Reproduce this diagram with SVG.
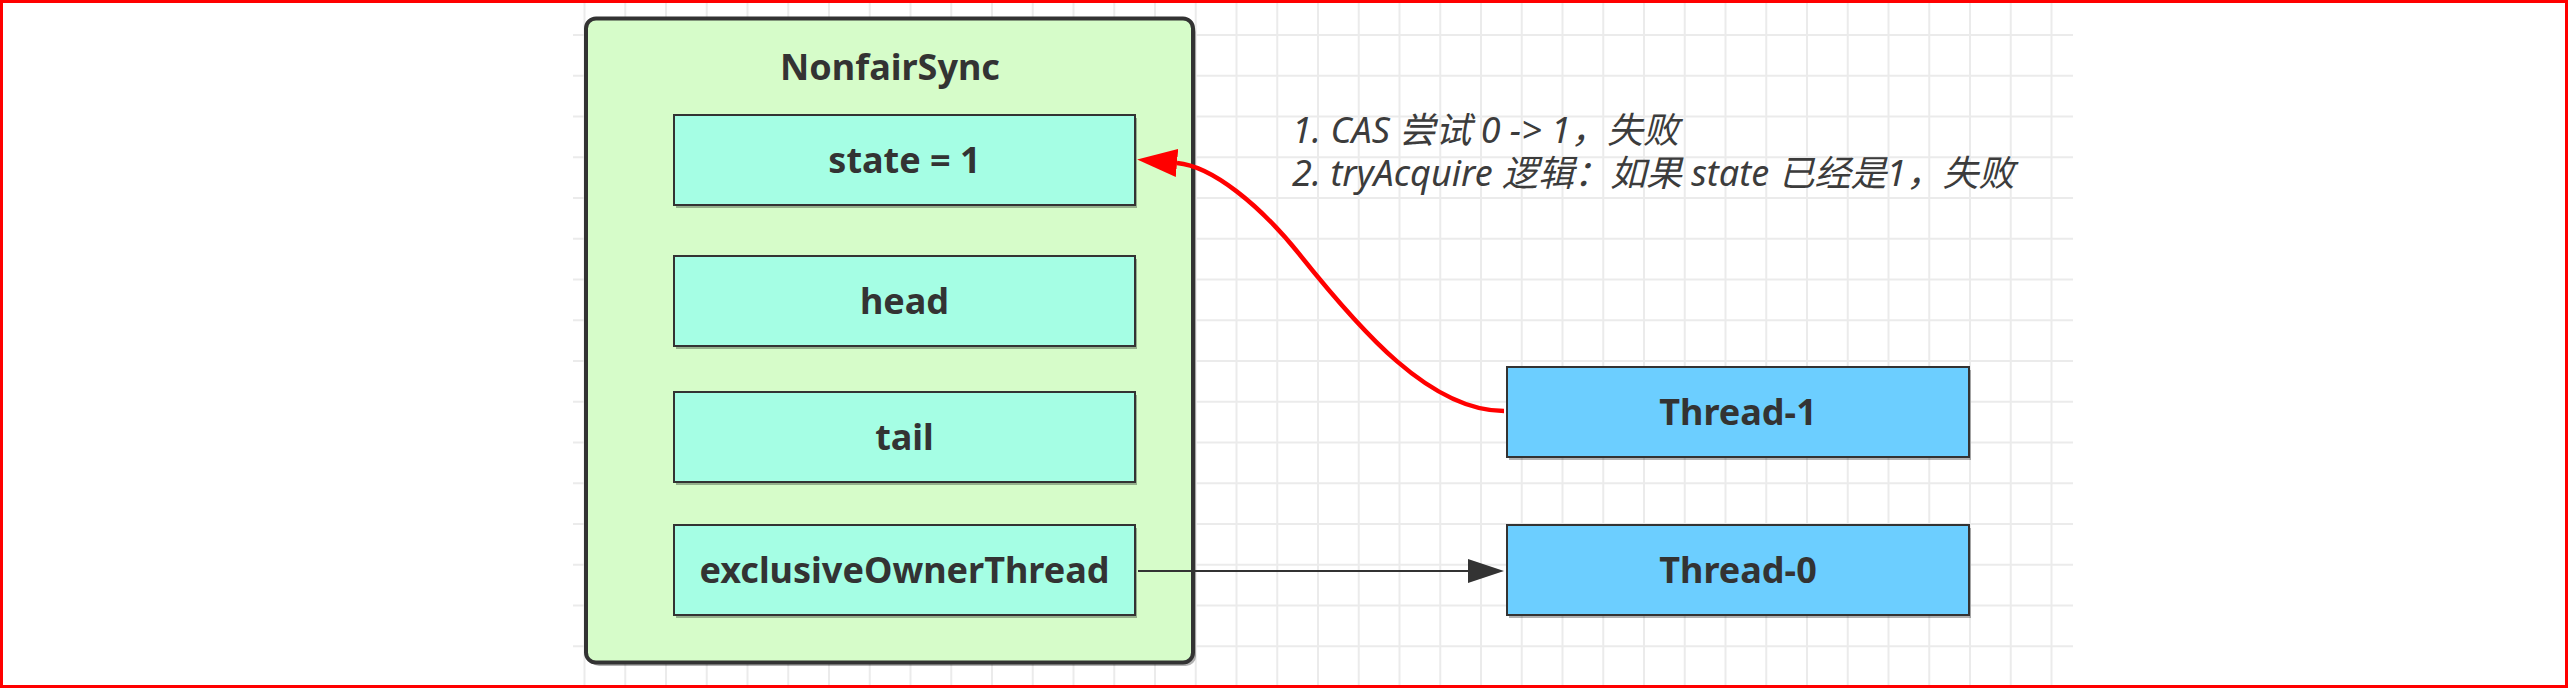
<svg xmlns="http://www.w3.org/2000/svg" width="2568" height="688" viewBox="0 0 2568 688">
  <style>
    .grid { stroke: #EBEBEB; stroke-width: 2; fill: none; }
    .shadow { fill: #000000; opacity: 0.3; }
    .outer { fill: #D6FCC9; stroke: #333333; stroke-width: 4; }
    .field { fill: #A5FEE4; stroke: #333333; stroke-width: 2; }
    .thread { fill: #6CCEFF; stroke: #333333; stroke-width: 2; }
    .label { font-family: "Noto Sans", "Open Sans", sans-serif; font-weight: bold; font-size: 36px; fill: #333333; text-anchor: middle; }
    .note { font-family: "Noto Sans", "Noto Sans CJK SC", sans-serif; font-style: italic; font-size: 36px; fill: #3C3C3C; }
  </style>
  <defs>
    <marker id="arrowRed" markerUnits="userSpaceOnUse" markerWidth="42" markerHeight="30" refX="0" refY="14" orient="auto">
      <path d="M0,0 L40,14 L0,28 Z" fill="#FF0000"/>
    </marker>
    <marker id="arrowBlack" markerUnits="userSpaceOnUse" markerWidth="38" markerHeight="26" refX="0" refY="12" orient="auto">
      <path d="M0,0 L36,12 L0,24 Z" fill="#333333"/>
    </marker>
  </defs>

  <rect x="0" y="0" width="2568" height="688" fill="#FFFFFF"/>

  <g id="grid">
    <path class="grid" d="M584.5 0V688 M625.25 0V688 M666 0V688 M706.75 0V688 M747.5 0V688 M788.25 0V688 M829 0V688 M869.75 0V688 M910.5 0V688 M951.25 0V688 M992 0V688 M1032.75 0V688 M1073.5 0V688 M1114.25 0V688 M1155 0V688 M1195.75 0V688 M1236.5 0V688 M1277.25 0V688 M1318 0V688 M1358.75 0V688 M1399.5 0V688 M1440.25 0V688 M1481 0V688 M1521.75 0V688 M1562.5 0V688 M1603.25 0V688 M1644 0V688 M1684.75 0V688 M1725.5 0V688 M1766.25 0V688 M1807 0V688 M1847.75 0V688 M1888.5 0V688 M1929.25 0V688 M1970 0V688 M2010.75 0V688 M2051.5 0V688"/>
    <path class="grid" d="M573 35H2073 M573 75.75H2073 M573 116.5H2073 M573 157.25H2073 M573 198H2073 M573 238.75H2073 M573 279.5H2073 M573 320.25H2073 M573 361H2073 M573 401.75H2073 M573 442.5H2073 M573 483.25H2073 M573 524H2073 M573 564.75H2073 M573 605.5H2073 M573 646.25H2073"/>
  </g>

  <g id="NonfairSync">
    <rect class="shadow" x="589" y="22" width="607" height="644" rx="10"/>
    <rect class="outer" x="586" y="18.5" width="607" height="644" rx="10"/>
    <text class="label" x="890" y="80">NonfairSync</text>
  </g>

  <g id="state">
    <rect class="shadow" x="676" y="118" width="461" height="90"/>
    <rect class="field" x="674" y="115" width="461" height="90"/>
    <text class="label" x="904.5" y="173">state = 1</text>
  </g>

  <g id="head">
    <rect class="shadow" x="676" y="259" width="461" height="90"/>
    <rect class="field" x="674" y="256" width="461" height="90"/>
    <text class="label" x="904.5" y="314">head</text>
  </g>

  <g id="tail">
    <rect class="shadow" x="676" y="395" width="461" height="90"/>
    <rect class="field" x="674" y="392" width="461" height="90"/>
    <text class="label" x="904.5" y="450">tail</text>
  </g>

  <g id="exclusiveOwnerThread">
    <rect class="shadow" x="676" y="528" width="461" height="90"/>
    <rect class="field" x="674" y="525" width="461" height="90"/>
    <text class="label" x="904.5" y="583">exclusiveOwnerThread</text>
  </g>

  <g id="Thread-1">
    <rect class="shadow" x="1509" y="370" width="462" height="90"/>
    <rect class="thread" x="1507" y="367" width="462" height="90"/>
    <text class="label" x="1738" y="425">Thread-1</text>
  </g>

  <g id="Thread-0">
    <rect class="shadow" x="1509" y="528" width="462" height="90"/>
    <rect class="thread" x="1507" y="525" width="462" height="90"/>
    <text class="label" x="1738" y="583">Thread-0</text>
  </g>

  <g id="note">
    <text class="note" x="1292" y="143">1. CAS 尝试 0 -&gt; 1，失败</text>
    <text class="note" x="1292" y="186">2. tryAcquire 逻辑：如果 state 已经是1，失败</text>
  </g>

  <g id="connectors">
    <path d="M1504,411 C1430,411 1360,330 1300,255 C1260,205 1212,166 1177,163" fill="none" stroke="#FF0000" stroke-width="4.5" marker-end="url(#arrowRed)"/>
    <path d="M1138,571 L1468,571" fill="none" stroke="#333333" stroke-width="2" marker-end="url(#arrowBlack)"/>
  </g>

  <rect x="1.5" y="1.5" width="2565" height="685" fill="none" stroke="#FF0000" stroke-width="3"/>
</svg>
